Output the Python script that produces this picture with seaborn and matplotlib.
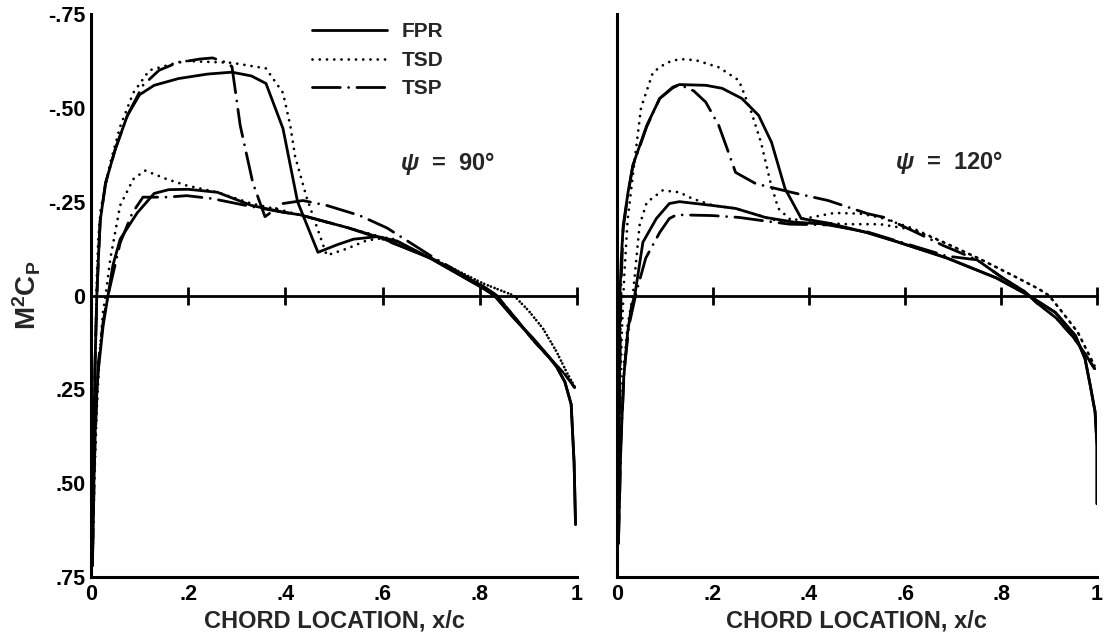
import numpy as np
import pandas as pd
import matplotlib
matplotlib.use("Agg")
import matplotlib.pyplot as plt
from matplotlib.lines import Line2D
import seaborn as sns

# ---------------- data ----------------
methods = ["FPR", "TSD", "TSP"]
panels = ["90", "120"]
x_ticks = [0, 0.2, 0.4, 0.6, 0.8, 1.0]
x_tick_labels = ["0", ".2", ".4", ".6", ".8", "1"]
y_ticks = [-0.75, -0.5, -0.25, 0, 0.25, 0.5, 0.75]
y_tick_labels = ["-.75", "-.50", "-.25", "0", ".25", ".50", ".75"]

# psi = 90 deg
fpr90_up_x = [0.003, 0.005, 0.008, 0.012, 0.016, 0.019, 0.03, 0.05, 0.075, 0.10, 0.13, 0.18, 0.24, 0.29, 0.33, 0.36,
              0.395, 0.425, 0.467, 0.506, 0.54, 0.59, 0.63, 0.70, 0.806, 0.83, 0.87, 0.91, 0.94, 0.958, 0.975, 0.988, 0.994, 0.997]
fpr90_up_y = [0.72, 0.45, 0.2, 0.0, -0.12, -0.2, -0.3, -0.39, -0.48, -0.535, -0.56, -0.578, -0.59, -0.595, -0.585, -0.565,
              -0.445, -0.25, -0.115, -0.135, -0.15, -0.157, -0.145, -0.098, -0.02, 0.0, 0.06, 0.115, 0.16, 0.19, 0.23, 0.29, 0.445, 0.61]
fpr90_lo_x = [0.003, 0.006, 0.010, 0.015, 0.025, 0.035, 0.045, 0.06, 0.095, 0.13, 0.16, 0.2, 0.26, 0.33, 0.395, 0.43, 0.53, 0.60,
              0.70, 0.806, 0.83, 0.87, 0.91, 0.94, 0.958, 0.975, 0.988, 0.994, 0.997]
fpr90_lo_y = [0.72, 0.5, 0.3, 0.2, 0.08, 0.0, -0.08, -0.15, -0.22, -0.272, -0.282, -0.283, -0.275, -0.24, -0.222, -0.215, -0.18, -0.152,
              -0.098, -0.02, 0.0, 0.06, 0.115, 0.16, 0.19, 0.23, 0.29, 0.445, 0.61]
tsd90_up_x = [0.003, 0.006, 0.009, 0.012, 0.015, 0.02, 0.039, 0.06, 0.087, 0.12, 0.19, 0.29, 0.36, 0.395, 0.41, 0.42, 0.444,
              0.485, 0.527, 0.568, 0.615, 0.67, 0.74, 0.807, 0.85, 0.87, 0.90, 0.93, 0.958, 0.979, 0.996]
tsd90_up_y = [0.70, 0.4, 0.15, -0.05, -0.15, -0.23, -0.35, -0.45, -0.54, -0.6, -0.625, -0.62, -0.605, -0.54, -0.453, -0.37, -0.26,
              -0.107, -0.125, -0.147, -0.155, -0.118, -0.075, -0.032, -0.01, 0.0, 0.04, 0.088, 0.15, 0.205, 0.245]
tsd90_lo_x = [0.003, 0.008, 0.012, 0.018, 0.025, 0.03, 0.04, 0.06, 0.087, 0.111, 0.156, 0.197, 0.26, 0.33, 0.40, 0.47, 0.53, 0.60,
              0.67, 0.74, 0.807, 0.85, 0.87, 0.90, 0.93, 0.958, 0.979, 0.996]
tsd90_lo_y = [0.70, 0.45, 0.3, 0.15, 0.04, 0.0, -0.1, -0.24, -0.31, -0.333, -0.31, -0.293, -0.275, -0.245, -0.225, -0.2, -0.18, -0.155,
              -0.118, -0.075, -0.032, -0.01, 0.0, 0.04, 0.088, 0.15, 0.205, 0.245]
tsp90_up_x = [0.003, 0.005, 0.008, 0.012, 0.016, 0.019, 0.03, 0.05, 0.075, 0.107, 0.14, 0.177, 0.224, 0.25, 0.28, 0.29, 0.307,
              0.333, 0.358, 0.395, 0.436, 0.485, 0.553, 0.609, 0.70, 0.806, 0.835, 0.87, 0.91, 0.95, 0.975, 0.995]
tsp90_up_y = [0.70, 0.45, 0.2, 0.0, -0.12, -0.2, -0.3, -0.39, -0.48, -0.56, -0.60, -0.62, -0.63, -0.633, -0.62, -0.61, -0.453,
              -0.30, -0.21, -0.245, -0.253, -0.24, -0.213, -0.18, -0.105, -0.025, 0.0, 0.055, 0.12, 0.175, 0.21, 0.245]
tsp90_lo_x = [0.003, 0.008, 0.015, 0.025, 0.035, 0.06, 0.085, 0.107, 0.156, 0.197, 0.25, 0.33, 0.395, 0.43, 0.53, 0.60, 0.70,
              0.806, 0.835, 0.87, 0.91, 0.95, 0.975, 0.995]
tsp90_lo_y = [0.70, 0.4, 0.18, 0.07, 0.0, -0.14, -0.22, -0.262, -0.262, -0.266, -0.258, -0.237, -0.222, -0.215, -0.18, -0.15, -0.10,
              -0.025, 0.0, 0.055, 0.12, 0.175, 0.21, 0.245]

# psi = 120 deg
fpr120_up_x = [0.003, 0.005, 0.006, 0.009, 0.013, 0.023, 0.033, 0.062, 0.089, 0.116, 0.13, 0.185, 0.219, 0.26, 0.295, 0.322,
               0.35, 0.384, 0.44, 0.52, 0.584, 0.687, 0.79, 0.858, 0.913, 0.955, 0.975, 0.986, 0.996, 1.0, 1.0]
fpr120_up_y = [0.66, 0.3, 0.0, -0.1, -0.187, -0.275, -0.347, -0.453, -0.525, -0.555, -0.562, -0.56, -0.552, -0.525, -0.48, -0.408,
               -0.285, -0.205, -0.193, -0.168, -0.143, -0.1, -0.047, 0.0, 0.045, 0.107, 0.168, 0.24, 0.31, 0.4, 0.555]
fpr120_lo_x = [0.003, 0.008, 0.014, 0.022, 0.03, 0.037, 0.054, 0.082, 0.109, 0.13, 0.198, 0.247, 0.309, 0.371, 0.44, 0.52, 0.584,
               0.687, 0.79, 0.858, 0.913, 0.955, 0.975, 0.986, 0.996, 1.0, 1.0]
fpr120_lo_y = [0.66, 0.4, 0.22, 0.1, 0.03, 0.0, -0.142, -0.205, -0.245, -0.25, -0.24, -0.232, -0.208, -0.195, -0.19, -0.168, -0.143,
               -0.1, -0.047, 0.0, 0.045, 0.107, 0.168, 0.24, 0.31, 0.4, 0.555]
tsd120_up_x = [0.003, 0.006, 0.01, 0.015, 0.022, 0.033, 0.05, 0.075, 0.103, 0.13, 0.164, 0.212, 0.254, 0.28, 0.30, 0.32, 0.336,
               0.363, 0.404, 0.453, 0.507, 0.548, 0.618, 0.687, 0.755, 0.825, 0.878, 0.90, 0.928, 0.96, 0.981, 0.996]
tsd120_up_y = [0.64, 0.3, 0.1, -0.05, -0.2, -0.32, -0.5, -0.595, -0.62, -0.63, -0.627, -0.608, -0.573, -0.488, -0.408, -0.30, -0.232,
               -0.2, -0.208, -0.22, -0.218, -0.208, -0.178, -0.138, -0.098, -0.053, -0.018, 0.0, 0.045, 0.098, 0.152, 0.19]
tsd120_lo_x = [0.003, 0.008, 0.015, 0.022, 0.033, 0.047, 0.062, 0.095, 0.13, 0.157, 0.2, 0.247, 0.309, 0.36, 0.40, 0.48, 0.548,
               0.618, 0.687, 0.755, 0.825, 0.878, 0.90, 0.928, 0.96, 0.981, 0.996]
tsd120_lo_y = [0.64, 0.35, 0.18, 0.08, 0.0, -0.187, -0.248, -0.28, -0.275, -0.258, -0.24, -0.232, -0.208, -0.19, -0.195, -0.19, -0.19,
               -0.175, -0.138, -0.098, -0.053, -0.018, 0.0, 0.045, 0.098, 0.152, 0.19]
tsp120_up_x = [0.003, 0.005, 0.007, 0.009, 0.013, 0.023, 0.033, 0.062, 0.089, 0.116, 0.13, 0.16, 0.185, 0.212, 0.227, 0.247,
               0.289, 0.363, 0.44, 0.522, 0.557, 0.62, 0.68, 0.75, 0.80, 0.85, 0.875, 0.915, 0.95, 0.975, 0.995]
tsp120_up_y = [0.66, 0.35, 0.1, -0.05, -0.18, -0.27, -0.345, -0.45, -0.525, -0.553, -0.562, -0.545, -0.515, -0.453, -0.40, -0.328,
               -0.298, -0.275, -0.253, -0.218, -0.208, -0.17, -0.133, -0.095, -0.05, -0.01, 0.02, 0.06, 0.11, 0.155, 0.195]
tsp120_lo_x = [0.003, 0.008, 0.015, 0.025, 0.04, 0.06, 0.089, 0.109, 0.124, 0.198, 0.254, 0.30, 0.36, 0.44, 0.52, 0.584, 0.687,
               0.75, 0.80, 0.85, 0.875, 0.915, 0.95, 0.975, 0.995]
tsp120_lo_y = [0.66, 0.4, 0.2, 0.08, -0.008, -0.1, -0.168, -0.205, -0.215, -0.213, -0.208, -0.2, -0.19, -0.188, -0.17, -0.145, -0.105,
               -0.095, -0.05, -0.01, 0.02, 0.06, 0.11, 0.155, 0.195]

curves = [
    ("90", "FPR", "upper", fpr90_up_x, fpr90_up_y), ("90", "FPR", "lower", fpr90_lo_x, fpr90_lo_y),
    ("90", "TSD", "upper", tsd90_up_x, tsd90_up_y), ("90", "TSD", "lower", tsd90_lo_x, tsd90_lo_y),
    ("90", "TSP", "upper", tsp90_up_x, tsp90_up_y), ("90", "TSP", "lower", tsp90_lo_x, tsp90_lo_y),
    ("120", "FPR", "upper", fpr120_up_x, fpr120_up_y), ("120", "FPR", "lower", fpr120_lo_x, fpr120_lo_y),
    ("120", "TSD", "upper", tsd120_up_x, tsd120_up_y), ("120", "TSD", "lower", tsd120_lo_x, tsd120_lo_y),
    ("120", "TSP", "upper", tsp120_up_x, tsp120_up_y), ("120", "TSP", "lower", tsp120_lo_x, tsp120_lo_y),
]
rows = []
for panel, method, surf, xs, ys in curves:
    for i, (xv, yv) in enumerate(zip(xs, ys)):
        rows.append(dict(panel=panel, method=method, surface=surf, x=xv, cp=yv, order=i))
df = pd.DataFrame(rows)

# ---------------- styling ----------------
sns.set_theme(style="white")
plt.rcParams["font.family"] = ["Liberation Sans", "DejaVu Sans"]
plt.rcParams["font.weight"] = "bold"
plt.rcParams["mathtext.fontset"] = "custom"
plt.rcParams["mathtext.rm"] = "Liberation Sans:bold"
plt.rcParams["mathtext.bf"] = "Liberation Sans:bold"
plt.rcParams["mathtext.it"] = "Liberation Sans:italic"

LW = 2.0
dash_map = {"FPR": "", "TSD": (0.01, 2.6), "TSP": (10, 3.0, 0.01, 3.0)}

fig = plt.figure(figsize=(11.04, 6.38), dpi=100)
ax_l = fig.add_axes([91 / 1104, 61 / 638, 486 / 1104, 563 / 638])
ax_r = fig.add_axes([617 / 1104, 61 / 638, 480 / 1104, 563 / 638])

for ax, panel in zip([ax_l, ax_r], panels):
    sub = df[df.panel == panel]
    sns.lineplot(data=sub, x="x", y="cp", style="method", style_order=methods, units="surface",
                 estimator=None, sort=False, color="black", dashes=dash_map, linewidth=LW,
                 legend=False, ax=ax)
    for ln in ax.lines:
        ln.set_dash_capstyle("round")
    ax.set_xlim(0, 1.0)
    ax.set_ylim(0.75, -0.75)
    ax.set_xticks(x_ticks)
    ax.set_xticklabels(x_tick_labels)
    ax.set_yticks(y_ticks)
    ax.set_yticklabels(y_tick_labels)
    ax.tick_params(axis="both", direction="in", width=2, colors="black", labelsize=15.5)
    ax.tick_params(axis="y", length=9, pad=4)
    ax.tick_params(axis="x", length=11, pad=5)
    for s in ["top", "right"]:
        ax.spines[s].set_visible(False)
    for s in ["left", "bottom"]:
        ax.spines[s].set_linewidth(2.2)
        ax.spines[s].set_color("black")
    ax.set_xlabel("CHORD LOCATION, x/c", fontsize=17, fontweight="bold", labelpad=3)
    ax.set_ylabel("")
    ax.grid(False)
    # zero line with cross ticks
    sec = ax.secondary_xaxis(0, transform=ax.transData)
    sec.set_xticks(x_ticks[1:])
    sec.set_xticklabels([])
    sec.tick_params(axis="x", direction="inout", length=13, width=2, colors="black")
    for s in sec.spines.values():
        s.set_linewidth(2.0)
        s.set_color("black")

ax_r.tick_params(axis="y", labelleft=False)
ax_l.set_ylabel(r"$\mathbf{M^2C_P}$", fontsize=20, labelpad=4)

ax_l.text(0.636, 0.735, r"$\psi$  =  90°", transform=ax_l.transAxes, fontsize=17,
          fontweight="bold", va="center", ha="left")
ax_r.text(0.58, 0.737, r"$\psi$  =  120°", transform=ax_r.transAxes, fontsize=17,
          fontweight="bold", va="center", ha="left")

handles = [Line2D([], [], color="black", lw=LW, linestyle="-"),
           Line2D([], [], color="black", lw=LW, dashes=dash_map["TSD"], dash_capstyle="round"),
           Line2D([], [], color="black", lw=LW, dashes=dash_map["TSP"], dash_capstyle="round")]
ax_l.legend(handles, methods, loc="upper left", bbox_to_anchor=(0.455, 0.985), frameon=False,
            prop={"size": 15, "weight": "bold"}, handlelength=3.6, handletextpad=0.7,
            labelspacing=0.45, borderpad=0, borderaxespad=0)

fig.savefig("out.png", dpi=100)
